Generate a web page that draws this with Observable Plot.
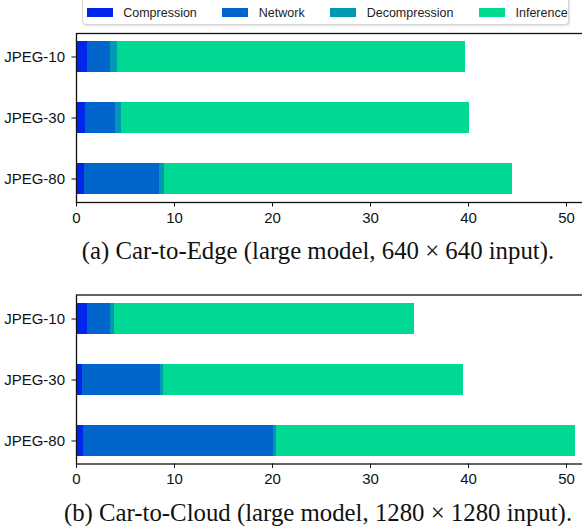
<!DOCTYPE html>
<html><head><meta charset="utf-8">
<script src="https://cdn.jsdelivr.net/npm/d3@7"></script>
<script src="https://cdn.jsdelivr.net/npm/@observablehq/plot@0.6"></script>
<style>
html,body{margin:0;padding:0;background:#fff;}
#fig{position:relative;width:582px;height:526px;overflow:hidden;background:#fff;}
.panel{position:absolute;left:0;max-width:none !important;}
.caption{position:absolute;left:18px;width:600px;text-align:center;font-family:"Liberation Serif","Times New Roman",serif;font-size:24.8px;line-height:1;color:#111;white-space:nowrap;}
#legend{position:absolute;left:82px;top:-8px;width:487px;height:33px;border:1px solid #d4d4d4;border-radius:4px;box-shadow:1px 1px 2px rgba(0,0,0,0.12);background:#fff;box-sizing:border-box;display:flex;align-items:center;padding:8px 0 0 3.7px;font-family:"Liberation Sans",Arial,sans-serif;font-size:12.5px;color:#222;}
.item{display:flex;align-items:center;margin-right:25.5px;}
.patch{width:26px;height:8.5px;margin-right:10.5px;}
</style></head><body>
<div id="fig"></div>
<script>
const categories = ["JPEG-10", "JPEG-30", "JPEG-80"];
const stages = ["Compression", "Network", "Decompression", "Inference"];
const stageColors = ["#0026ec", "#0066cc", "#0099b3", "#00d993"];
const xTicks = [0, 10, 20, 30, 40, 50];

// (a) Car-to-Edge
const edgeCompression   = [1.12, 0.92, 0.82];
const edgeNetwork       = [2.35, 3.06, 7.65];
const edgeDecompression = [0.71, 0.62, 0.51];
const edgeInference     = [35.5, 35.5, 35.5];

// (b) Car-to-Cloud
const cloudCompression   = [1.12, 0.61, 0.71];
const cloudNetwork       = [2.35, 7.96, 19.4];
const cloudDecompression = [0.41, 0.31, 0.30];
const cloudInference     = [30.6, 30.6, 30.5];

const captionA = "(a) Car-to-Edge (large model, 640 × 640 input).";
const captionB = "(b) Car-to-Cloud (large model, 1280 × 1280 input).";

function rowsOf(series) {
  const rows = [];
  categories.forEach((cat, i) => {
    stages.forEach((st, j) => rows.push({cat, stage: st, value: series[j][i]}));
  });
  return rows;
}

function panel(rows, marginTop) {
  const plotH = 169, marginBottom = 28;
  return Plot.plot({
    width: 590,
    height: marginTop + plotH + marginBottom,
    marginLeft: 76, marginRight: 0, marginTop, marginBottom,
    style: {fontFamily: "'Liberation Sans', Arial, sans-serif", fontSize: "15px", color: "#111", background: "transparent", overflow: "visible", maxWidth: "none"},
    x: {domain: [0, 514 / 9.8], label: null},
    y: {domain: categories, paddingInner: 0.5, paddingOuter: 0.135, label: null},
    color: {domain: stages, range: stageColors},
    marks: [
      Plot.barX(rows, Plot.stackX({x: "value", y: "cat", fill: "stage", order: stages, shapeRendering: "crispEdges"})),
      Plot.axisX({ticks: xTicks, tickSize: 4.5, tickPadding: 5, label: null, stroke: "#111", fill: "#111"}),
      Plot.axisY({tickSize: 4.5, tickPadding: 7, label: null, stroke: "#111", fill: "#111"}),
      Plot.frame({stroke: "#111", strokeWidth: 1.3})
    ]
  });
}

const fig = document.getElementById("fig");

const legend = document.createElement("div");
legend.id = "legend";
stages.forEach((st, j) => {
  const it = document.createElement("div"); it.className = "item";
  const p = document.createElement("div"); p.className = "patch"; p.style.background = stageColors[j];
  const t = document.createElement("span"); t.textContent = st;
  it.appendChild(p); it.appendChild(t); legend.appendChild(it);
});
fig.appendChild(legend);

const pa = panel(rowsOf([edgeCompression, edgeNetwork, edgeDecompression, edgeInference]), 8);
pa.classList.add("panel"); pa.style.top = "25px";
fig.appendChild(pa);

const pb = panel(rowsOf([cloudCompression, cloudNetwork, cloudDecompression, cloudInference]), 7.5);
pb.classList.add("panel"); pb.style.top = "287px";
fig.appendChild(pb);

const ca = document.createElement("div"); ca.className = "caption"; ca.style.top = "238.7px"; ca.textContent = captionA;
const cb = document.createElement("div"); cb.className = "caption"; cb.style.top = "501px"; cb.textContent = captionB;
fig.appendChild(ca); fig.appendChild(cb);
</script>
</body></html>
